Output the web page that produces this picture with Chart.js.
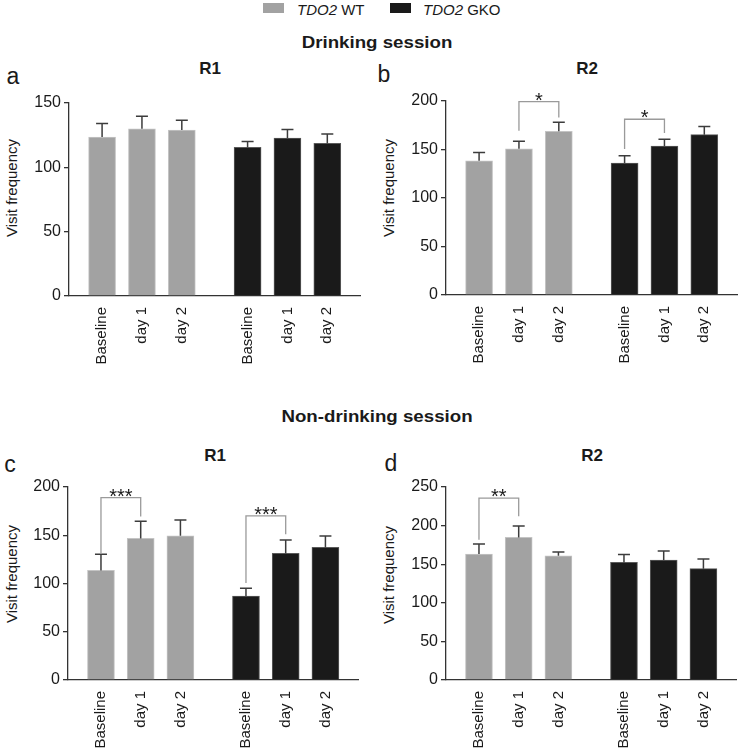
<!DOCTYPE html>
<html>
<head>
<meta charset="utf-8">
<script src="https://cdn.jsdelivr.net/npm/chart.js@4.4.0/dist/chart.umd.min.js"></script>
<style>
  body { margin: 0; background: #fff; font-family: "Liberation Sans", Arial, sans-serif; color: #1a1a1a; }
  #fig { position: relative; width: 738px; height: 749px; overflow: hidden; }
  .t { position: absolute; transform: translate(-50%, -50%); white-space: nowrap; }
  .head { font-weight: bold; font-size: 17px; transform: translate(-50%, -50%) scaleX(1.1); }
  .reg { font-weight: bold; font-size: 17px; }
  .let { font-size: 23px; }
  .yt { position: absolute; transform: translate(-50%, -50%) rotate(-90deg); font-size: 15px; white-space: nowrap; }
  .sq { position: absolute; width: 21px; height: 10px; }
  .leg { position: absolute; font-size: 15px; white-space: nowrap; transform: translateY(-50%); }
  canvas { position: absolute; }
</style>
</head>
<body>
<div id="fig">
  <div class="sq" style="left:263px;top:3px;background:#a2a2a2"></div>
  <div class="leg" style="left:297px;top:9px"><i>TDO2</i> WT</div>
  <div class="sq" style="left:390px;top:3px;background:#1a1a1a"></div>
  <div class="leg" style="left:423px;top:9px"><i>TDO2</i> GKO</div>

  <div class="t head" style="left:377px;top:43px">Drinking session</div>
  <div class="t head" style="left:377px;top:417px">Non-drinking session</div>

  <div class="t reg" style="left:210px;top:69px">R1</div>
  <div class="t reg" style="left:587px;top:69px">R2</div>
  <div class="t reg" style="left:215px;top:456px">R1</div>
  <div class="t reg" style="left:592px;top:456px">R2</div>

  <div class="t let" style="left:13px;top:76px">a</div>
  <div class="t let" style="left:384px;top:74px">b</div>
  <div class="t let" style="left:10px;top:464px">c</div>
  <div class="t let" style="left:391px;top:463px">d</div>

  <div class="yt" style="left:11px;top:188px">Visit frequency</div>
  <div class="yt" style="left:388px;top:188px">Visit frequency</div>
  <div class="yt" style="left:11px;top:574px">Visit frequency</div>
  <div class="yt" style="left:388px;top:575px">Visit frequency</div>

  <canvas id="cA" width="369" height="298" style="left:0;top:80px"></canvas>
  <canvas id="cB" width="369" height="298" style="left:369px;top:80px"></canvas>
  <canvas id="cC" width="369" height="283" style="left:0;top:466px"></canvas>
  <canvas id="cD" width="369" height="283" style="left:369px;top:466px"></canvas>
</div>

<script>
const wtX = [1, 2, 3];
const gkoX = [4.65, 5.65, 6.65];
const xLabels = ["Baseline", "day 1", "day 2", "Baseline", "day 1", "day 2"];

// a: drinking session, R1
const aWT = [123.5, 130, 129];
const aWTSem = [10.5, 9.7, 7.5];
const aGKO = [115.5, 122.8, 118.6];
const aGKOSem = [4.5, 6.7, 7.4];
const aBrackets = [];

// b: drinking session, R2
const bWT = [138.4, 150.8, 168.8];
const bWTSem = [8.6, 7.6, 9.2];
const bGKO = [136, 153.6, 165.3];
const bGKOSem = [7.6, 6.9, 8.3];
// [from bar, to bar, top, left leg end, right leg end, label]
const bBrackets = [[1, 2, 199.4, 169.4, 182.9, "*"], [3, 4, 181.2, 150.5, 167, "*"]];

// c: non-drinking session, R1
const cWT = [113.6, 146.7, 149.5];
const cWTSem = [16.6, 17.7, 16.3];
const cGKO = [87, 131.2, 137.4];
const cGKOSem = [8, 13.8, 11.8];
const cBrackets = [[0, 1, 189, 131, 169.5, "***"], [3, 4, 170, 100.5, 151, "***"]];

// d: non-drinking session, R2
const dWT = [163.2, 184.7, 161];
const dWTSem = [13, 14.8, 4.8];
const dGKO = [152.3, 155.4, 144.2];
const dGKOSem = [10.4, 11.6, 12.5];
const dBrackets = [[0, 1, 235.7, 181.7, 212, "**"]];

const allX = wtX.concat(gkoX);

const marks = {
  id: "marks",
  afterDatasetsDraw(chart, args, opts) {
    const ctx = chart.ctx;
    const ys = chart.scales.y;
    const xs = chart.scales.x;
    ctx.save();
    // error bars (upper only)
    ctx.strokeStyle = "#3c3c3c";
    ctx.lineWidth = 1.5;
    chart.data.datasets.forEach((ds, di) => {
      const meta = chart.getDatasetMeta(di);
      meta.data.forEach((bar, i) => {
        const top = ys.getPixelForValue(ds.data[i].y + ds.sem[i]);
        ctx.beginPath();
        ctx.moveTo(bar.x, bar.y);
        ctx.lineTo(bar.x, top);
        ctx.moveTo(bar.x - 6, top);
        ctx.lineTo(bar.x + 6, top);
        ctx.stroke();
      });
    });
    // significance brackets
    (opts.brackets || []).forEach(b => {
      const x1 = xs.getPixelForValue(allX[b[0]]);
      const x2 = xs.getPixelForValue(allX[b[1]]);
      const yt = ys.getPixelForValue(b[2]);
      ctx.strokeStyle = "#9a9a9a";
      ctx.lineWidth = 1.3;
      ctx.beginPath();
      ctx.moveTo(x1, ys.getPixelForValue(b[3]));
      ctx.lineTo(x1, yt);
      ctx.lineTo(x2, yt);
      ctx.lineTo(x2, ys.getPixelForValue(b[4]));
      ctx.stroke();
      ctx.fillStyle = "#1a1a1a";
      ctx.font = "20px 'Liberation Sans', Arial, sans-serif";
      ctx.textAlign = "center";
      ctx.textBaseline = "alphabetic";
      ctx.fillText(b[5], (x1 + x2) / 2, yt + 5);
    });
    ctx.restore();
  }
};

function makePanel(id, canvasLeft, canvasTop, canvasH, area, yMax, wt, wtSem, gko, gkoSem, brackets) {
  const yWidth = area.left - canvasLeft;
  const xHeight = canvasTop + canvasH - area.bottom;
  return new Chart(document.getElementById(id), {
    type: "bar",
    data: {
      datasets: [
        {
          label: "TDO2 WT",
          data: wt.map((v, i) => ({ x: wtX[i], y: v })),
          sem: wtSem,
          backgroundColor: "#a2a2a2",
          borderColor: "#c4c4c4",
          borderWidth: 1,
          grouped: false,
          barThickness: 27,
        },
        {
          label: "TDO2 GKO",
          data: gko.map((v, i) => ({ x: gkoX[i], y: v })),
          sem: gkoSem,
          backgroundColor: "#1a1a1a",
          borderColor: "#5a5a5a",
          borderWidth: 1,
          grouped: false,
          barThickness: 27,
        },
      ],
    },
    options: {
      responsive: false,
      animation: false,
      devicePixelRatio: 1,
      layout: {
        padding: { top: area.top - canvasTop, right: canvasLeft + 369 - area.right, left: 0, bottom: 0 },
      },
      plugins: {
        legend: { display: false },
        tooltip: { enabled: false },
        marks: { brackets: brackets },
      },
      scales: {
        x: {
          type: "linear",
          min: 0.17,
          max: 7.47,
          offset: false,
          afterBuildTicks: s => { s.ticks = allX.map(v => ({ value: v })); },
          afterFit: s => { s.height = xHeight; },
          ticks: {
            autoSkip: false,
            minRotation: 90,
            maxRotation: 90,
            padding: 3,
            color: "#1a1a1a",
            font: { size: 15, family: "'Liberation Sans', Arial, sans-serif" },
            callback: (v, i) => xLabels[i],
          },
          grid: { display: false },
          border: { display: true, color: "#333", width: 1.3 },
        },
        y: {
          min: 0,
          max: yMax,
          afterFit: s => { s.width = yWidth; },
          ticks: {
            stepSize: 50,
            padding: 3,
            color: "#1a1a1a",
            font: { size: 16, family: "'Liberation Sans', Arial, sans-serif" },
          },
          grid: { drawOnChartArea: false, drawTicks: true, tickLength: 5, color: "#333", lineWidth: 1.3 },
          border: { display: true, color: "#333", width: 1.3 },
        },
      },
    },
    plugins: [marks],
  });
}

const chartA = makePanel("cA", 0, 80, 298, { left: 69, top: 103, right: 360, bottom: 296 }, 150, aWT, aWTSem, aGKO, aGKOSem, aBrackets);
const chartB = makePanel("cB", 369, 80, 298, { left: 446, top: 101, right: 737, bottom: 295 }, 200, bWT, bWTSem, bGKO, bGKOSem, bBrackets);
const chartC = makePanel("cC", 0, 466, 283, { left: 68, top: 487, right: 358, bottom: 680 }, 200, cWT, cWTSem, cGKO, cGKOSem, cBrackets);
const chartD = makePanel("cD", 369, 466, 283, { left: 446, top: 487, right: 736, bottom: 680 }, 250, dWT, dWTSem, dGKO, dGKOSem, dBrackets);
</script>
</body>
</html>
